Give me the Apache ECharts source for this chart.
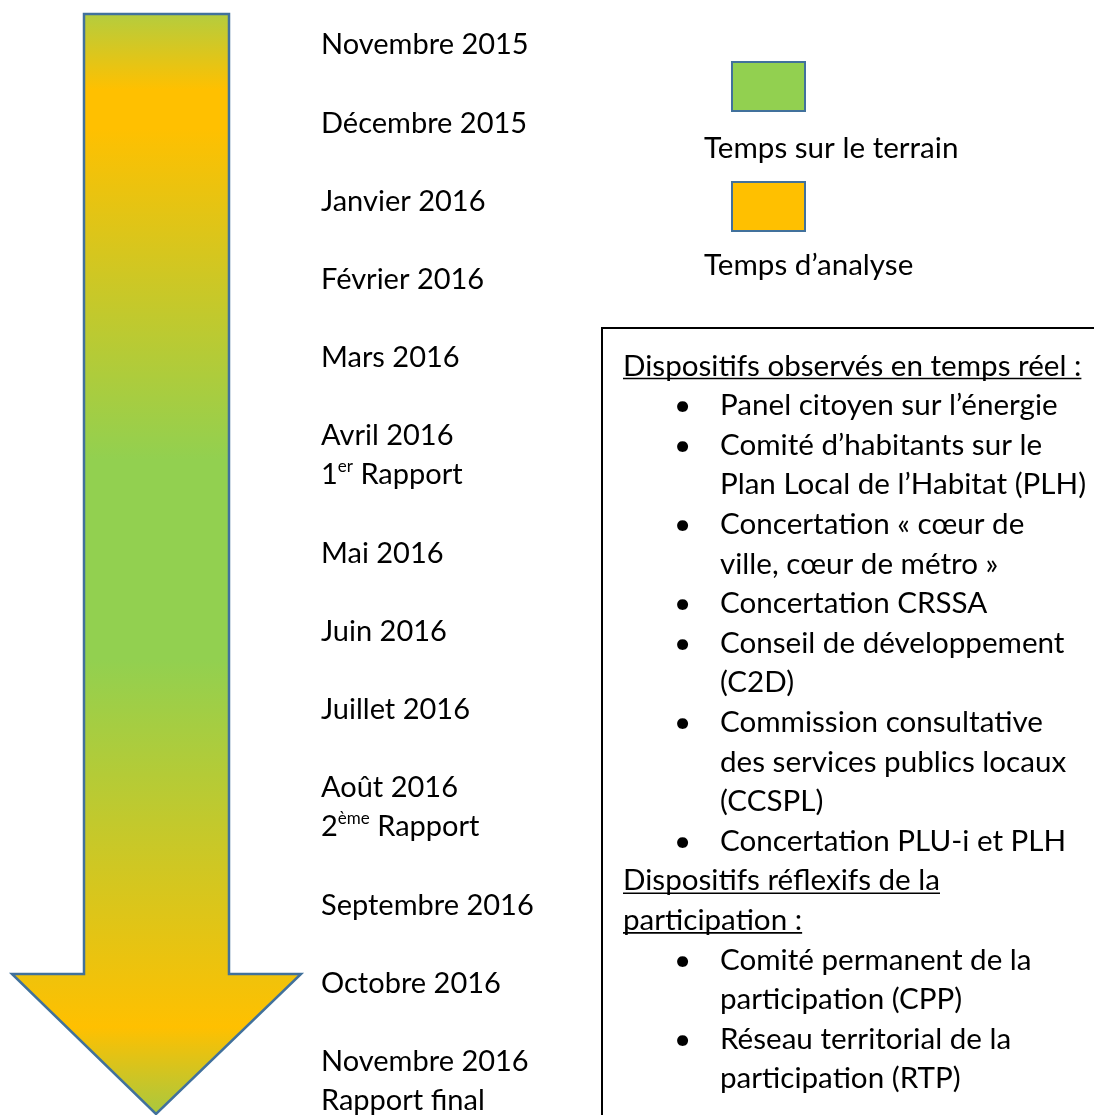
<!DOCTYPE html>
<html>
<head>
<meta charset="utf-8">
<script src="https://cdn.jsdelivr.net/npm/echarts@6/dist/echarts.min.js"></script>
<style>
html,body{margin:0;padding:0;background:#fff;}
#chart{width:1094px;height:1115px;}
</style>
</head>
<body>
<div id="chart"></div>
<script>
// ---- content ----
const months = ['Novembre 2015','Décembre 2015','Janvier 2016','Février 2016','Mars 2016','Avril 2016','Mai 2016','Juin 2016','Juillet 2016','Août 2016','Septembre 2016','Octobre 2016','Novembre 2016'];
const monthNotes = ['','','','','','1{sup|er} Rapport','','','','2{sup|ème} Rapport','','','Rapport final'];
const legendLabels = ['Temps sur le terrain','Temps d’analyse'];
const observedTitle = ['Dispositifs observés en temps réel :'];
const observedItems = [
  ['Panel citoyen sur l’énergie'],
  ['Comité d’habitants sur le','Plan Local de l’Habitat (PLH)'],
  ['Concertation « cœur de','ville, cœur de métro »'],
  ['Concertation CRSSA'],
  ['Conseil de développement','(C2D)'],
  ['Commission consultative','des services publics locaux','(CCSPL)'],
  ['Concertation PLU-i et PLH']
];
const reflexiveTitle = ['Dispositifs réflexifs de la','participation :'];
const reflexiveItems = [
  ['Comité permanent de la','participation (CPP)'],
  ['Réseau territorial de la','participation (RTP)']
];

// ---- style ----
const FONT = 'Lato, "Open Sans", sans-serif';
const FS_MONTH = 29;
const FS = 29.6;
const GREEN = '#92d050', ORANGE = '#ffc000', EDGE = '#41719c';

const chart = echarts.init(document.getElementById('chart'), null, {renderer:'canvas'});
const ctx = document.createElement('canvas').getContext('2d');
function textWidth(t, fs){ ctx.font = fs + 'px ' + FONT; return ctx.measureText(t).width; }

const els = [];

// Arrow
els.push({
  type:'polygon', z:1,
  shape:{points:[[84,14],[229,14],[229,974],[301,974],[156,1114],[12,974],[84,974]]},
  style:{
    fill:new echarts.graphic.LinearGradient(0,0,0,1,[
      {offset:0,color:'#b3cd3f'},
      {offset:0.07,color:ORANGE},
      {offset:0.105,color:ORANGE},
      {offset:0.405,color:GREEN},
      {offset:0.587,color:GREEN},
      {offset:0.92,color:ORANGE},
      {offset:1,color:'#a8c840'}
    ]),
    stroke:EDGE, lineWidth:2.5, lineJoin:'miter'
  }
});

// Month labels
const monthX = 321, monthY0 = 45, monthStep = 39.1;
let slot = 0;
months.forEach((m,i)=>{
  const lines = [m];
  if (monthNotes[i]) lines.push(monthNotes[i]);
  lines.forEach((ln,j)=>{
    els.push({
      type:'text', z:5, x:monthX, y:monthY0 + (slot+j)*monthStep,
      style:{
        text:ln, fill:'#000', fontSize:FS_MONTH, fontFamily:FONT,
        verticalAlign:'middle', align:'left',
        rich:{sup:{fontSize:17, fontFamily:FONT, fill:'#000', padding:[0,0,17,0]}}
      }
    });
  });
  slot += lines.length + 1;
});

// Legend
const legendColors = [GREEN, ORANGE];
const legendRectY = [62,182], legendTextY = [148,265];
legendLabels.forEach((l,i)=>{
  els.push({type:'rect', z:5, shape:{x:732,y:legendRectY[i],width:73,height:49},
    style:{fill:legendColors[i], stroke:EDGE, lineWidth:2}});
  els.push({type:'text', z:5, x:704, y:legendTextY[i],
    style:{text:l, fill:'#000', fontSize:FS, fontFamily:FONT, verticalAlign:'middle'}});
});

// Box
els.push({type:'rect', z:3, shape:{x:602,y:328,width:520,height:820},
  style:{fill:'#fff', stroke:'#000', lineWidth:2}});

const boxX = 623, bulletX = 674, itemX = 720, boxY0 = 366, boxStep = 39.6;
let row = 0;
function title(lines){
  lines.forEach(t=>{
    const y = boxY0 + row*boxStep;
    els.push({type:'text', z:5, x:boxX, y:y,
      style:{text:t, fill:'#000', fontSize:FS, fontFamily:FONT, verticalAlign:'middle'}});
    const w = textWidth(t, FS);
    els.push({type:'line', z:5, shape:{x1:boxX,y1:y+12.5,x2:boxX+w,y2:y+12.5},
      style:{stroke:'#000', lineWidth:1.6}});
    row++;
  });
}
function items(list){
  list.forEach(it=>{
    it.forEach((t,j)=>{
      const y = boxY0 + row*boxStep;
      if (j===0) els.push({type:'text', z:5, x:bulletX, y:y,
        style:{text:'•', fill:'#000', fontSize:FS, fontFamily:FONT, verticalAlign:'middle'}});
      els.push({type:'text', z:5, x:itemX, y:y,
        style:{text:t, fill:'#000', fontSize:FS, fontFamily:FONT, verticalAlign:'middle'}});
      row++;
    });
  });
}
title(observedTitle);
items(observedItems);
title(reflexiveTitle);
items(reflexiveItems);

chart.setOption({
  backgroundColor:'#fff',
  animation:false,
  graphic:{elements:els}
});
</script>
</body>
</html>
